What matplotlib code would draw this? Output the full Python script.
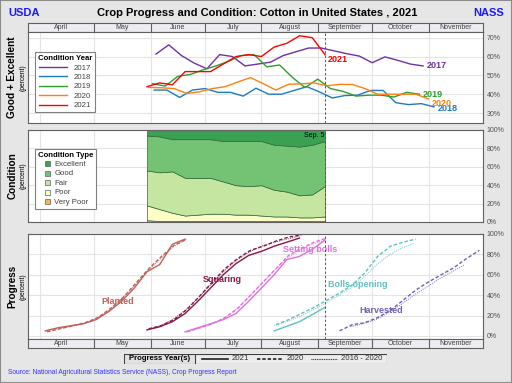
import matplotlib
matplotlib.use('Agg')
import matplotlib.pyplot as plt
import pandas as pd
from matplotlib.lines import Line2D
from matplotlib.patches import Rectangle

plt.rcParams['font.family'] = ['Liberation Sans', 'DejaVu Sans']

months = ['April', 'May', 'June', 'July', 'August', 'September', 'October', 'November']
month_starts = ['2021-04-01', '2021-05-01', '2021-06-01', '2021-07-01', '2021-08-01',
                '2021-09-01', '2021-10-01', '2021-11-01', '2021-12-01']
latest_week = '2021-09-05'

# good + excellent condition by year (%)
ge_years = ['2017', '2018', '2019', '2020', '2021']
ge_start = ['2017-06-04', '2018-06-03', '2019-06-02', '2020-05-31', '2021-05-30']
ge_2017 = [61.3, 66.2, 60.5, 56.5, 53.5, 61, 60, 55, 56, 57, 60.5, 62.5, 64.5, 64.5, 63,
           61.5, 60.2, 56.7, 59.8, 58, 56, 55]
ge_2018 = [42.2, 42.2, 38.3, 42.2, 43, 41, 41, 39, 43.2, 40, 40, 42, 44, 41.2, 38, 39.3,
           39.5, 42, 42, 35.5, 34.5, 35, 33.3]
ge_2019 = [45.6, 44.3, 49.5, 50.5, 53, 55, 57.5, 60.5, 61, 54.5, 55.5, 49, 43.5, 48, 43,
           41.5, 39, 39.5, 39.5, 38.5, 41, 40]
ge_2020 = [43.6, 43.4, 43, 40.4, 41.3, 43, 44, 46.5, 48.8, 45.6, 42.2, 45.3, 45.5, 46, 44.5,
           45.2, 45.2, 43, 40, 40, 40, 40, 37.5]
ge_2021 = [44, 46, 45, 52, 52, 52, 56, 60, 61, 60, 65, 67, 71, 70, 61]
ge_colors = ['#7030a8', '#1f7bc0', '#2ca02c', '#ff7f0e', '#ff0000']

# condition type 2021 (%)
cond_start = '2021-05-30'
cond_types = ['Excellent', 'Good', 'Fair', 'Poor', 'Very Poor']
excellent = [6, 7, 10, 10, 10, 10, 12, 12, 12, 12, 16, 17, 18, 16, 12]
good = [38, 39, 35, 42, 42, 42, 44, 48, 49, 48, 49, 50, 53, 54, 49]
fair = [38, 40, 45, 41, 40, 39, 35, 32, 31, 33, 29, 27, 24, 25, 33]
poor = [16, 13, 9, 6, 7, 8, 8, 7, 7, 6, 5, 5, 4, 4, 5]
very_poor = [2, 1, 1, 1, 1, 1, 1, 1, 1, 1, 1, 1, 1, 1, 1]
cond_colors = ['#3aa052', '#74c374', '#c4e6a0', '#fefec8', '#f4b850']

# progress (%): 2021, 2020, 2016-2020 average
stages = ['Planted', 'Squaring', 'Setting bolls', 'Bolls opening', 'Harvested']
stage_colors = ['#c0605a', '#861848', '#e070e0', '#60c0c0', '#7060b8']
start_2021 = ['2021-04-04', '2021-05-30', '2021-06-20', '2021-08-08', None]
start_2020 = ['2020-04-05', '2020-05-31', '2020-06-21', '2020-08-09', '2020-09-13']
start_avg = ['2021-04-04', '2021-05-30', '2021-06-20', '2021-08-08', '2021-09-19']
prog_2021 = [
    [5, 8, 10, 12, 16, 24, 34, 47, 63, 70, 90, 95],
    [6, 9, 14, 22, 34, 47, 60, 71, 79, 83, 88, 92, 96],
    [4, 8, 12, 16, 22, 34, 47, 60, 75, 78, 85, 94],
    [5, 9.5, 14, 21, 28],
    [],
]
prog_2020 = [
    [4, 7, 10, 13, 18, 27, 38, 52, 66, 78, 89, 95],
    [7, 10, 16, 26, 39, 53, 66, 76, 84, 88, 93, 97, 99],
    [4, 8, 12, 18, 27, 40, 53, 66, 79, 86, 92, 96],
    [11, 16, 22, 28, 35, 42, 50, 62, 78, 88, 92, 95],
    [5, 11, 13, 18, 25, 35, 45, 53, 60, 67, 76, 84],
]
prog_avg = [
    [5, 7, 9, 12, 17, 25, 36, 49, 63, 75, 87, 94],
    [6, 10, 16, 25, 37, 50, 63, 74, 82, 88, 92, 95, 98],
    [4, 7, 11, 17, 26, 38, 51, 64, 76, 84, 90, 94],
    [10, 14, 19, 25, 32, 39, 47, 57, 69, 79, 86, 91],
    [9, 12, 16, 23, 31, 40, 48, 56, 63, 70],
]
stage_label_pos = [(134, 34), (191.5, 55), (239.7, 85), (266, 50), (279, 24.5)]


def doy(date):
    t = pd.Timestamp(date)
    return pd.Timestamp(2021, t.month, t.day).dayofyear


def weeks(start, n):
    return [doy(t) for t in pd.date_range(start, periods=n, freq='7D')]


W, H = 512, 383
fig = plt.figure(figsize=(W / 100, H / 100), dpi=100)
fig.patch.set_facecolor('#e6e6e6')
fig.patches.append(Rectangle((0, 0), 1, 1, transform=fig.transFigure, fill=False,
                             edgecolor='#8c8c8c', lw=1.5))

x0, x1 = 84.5, 335
ms = [doy(m) for m in month_starts]
frame = '#606060'
grid = '#e4e4e4'


def pix_axes(top, bottom):
    return fig.add_axes([28 / W, 1 - bottom / H, 455 / W, (bottom - top) / H])


def style(ax, ylim, ticks):
    ax.set_xlim(x0, x1)
    ax.set_ylim(*ylim)
    ax.set_facecolor('white')
    for t in ticks:
        ax.axhline(t, color=grid, lw=0.8, zorder=0)
    for m in ms[:-1]:
        ax.axvline(m, color=grid, lw=0.8, zorder=0)
    ax.set_xticks([])
    ax.yaxis.tick_right()
    ax.set_yticks(ticks)
    ax.set_yticklabels([f'{t}%' for t in ticks])
    ax.tick_params(axis='y', length=0, labelsize=5, labelcolor='#505050', pad=2.5)
    for s in ax.spines.values():
        s.set_color(frame)
        s.set_linewidth(0.8)
    ax.axvline(doy(latest_week), color='#555555', lw=0.7, ls=(0, (2.5, 2)), zorder=5)


def month_strip(top, bottom):
    ax = pix_axes(top, bottom)
    ax.set_xlim(x0, x1)
    ax.set_ylim(0, 1)
    ax.set_facecolor('#ededf1')
    ax.set_xticks([])
    ax.set_yticks([])
    for s in ax.spines.values():
        s.set_color(frame)
        s.set_linewidth(0.8)
    edges = [x0] + ms[1:]
    for m in ms[1:-1]:
        ax.axvline(m, color=frame, lw=0.8)
    for i, name in enumerate(months):
        ax.text((edges[i] + edges[i + 1]) / 2, 0.45, name, ha='center', va='center',
                fontsize=5, color='#404040')


# title
fig.text(8 / W, 1 - 13 / H, 'USDA', color='#1a1aff', fontsize=8, fontweight='bold',
         ha='left', va='center')
fig.text(504 / W, 1 - 13 / H, 'NASS', color='#1a1aff', fontsize=8, fontweight='bold',
         ha='right', va='center')
fig.text(257 / W, 1 - 13 / H, 'Crop Progress and Condition: Cotton in United States , 2021',
         fontsize=8, fontweight='bold', ha='center', va='center')

month_strip(23, 32)

# top panel: good + excellent
ax1 = pix_axes(32, 122.5)
style(ax1, (25, 73), [30, 40, 50, 60, 70])
series = [ge_2017, ge_2018, ge_2019, ge_2020, ge_2021]
offsets = [(3, 0), (2.5, -1.2), (2.5, 0), (2.5, -3.6), (2.2, -3.2)]
for yr, st, vals, c, off in zip(ge_years, ge_start, series, ge_colors, offsets):
    xs = weeks(st, len(vals))
    ax1.plot(xs, vals, color=c, lw=1, label=yr, zorder=3)
    ax1.annotate(yr, (xs[-1], vals[-1]), xytext=off, textcoords='offset points',
                 color=c, fontsize=6.5, fontweight='bold', ha='left', va='center')
leg1 = ax1.legend(title='Condition Year', loc='upper left', bbox_to_anchor=(0.006, 0.82),
                  fontsize=5.6, title_fontproperties={'size': 5.6, 'weight': 'bold'},
                  handlelength=3.6, labelspacing=0.25, borderpad=0.4, fancybox=False,
                  framealpha=1, edgecolor='#808080', handletextpad=0.8)
leg1.get_frame().set_linewidth(0.8)
for t in leg1.get_texts():
    t.set_color('#404040')

# middle panel: condition type
ax2 = pix_axes(130, 222)
style(ax2, (0, 100), [0, 20, 40, 60, 80, 100])
xc = weeks(cond_start, len(excellent))
ax2.stackplot(xc, very_poor, poor, fair, good, excellent, colors=cond_colors[::-1],
              edgecolor='#2f6a35', linewidth=0.5, zorder=2)
ax2.text(doy(latest_week) - 0.3, 98, 'Sep. 5', ha='right', va='top', fontsize=5, zorder=6)
handles = [Line2D([], [], ls='', marker='s', markersize=3.6, markerfacecolor=c,
                  markeredgecolor='#606060', markeredgewidth=0.5) for c in cond_colors]
leg2 = ax2.legend(handles, cond_types, title='Condition Type', loc='upper left',
                  bbox_to_anchor=(0.006, 0.84), fontsize=5.6,
                  title_fontproperties={'size': 5.6, 'weight': 'bold'},
                  labelspacing=0.25, borderpad=0.4, fancybox=False, framealpha=1,
                  edgecolor='#808080', handletextpad=0.3, handlelength=1.2)
leg2.get_frame().set_linewidth(0.8)
for t in leg2.get_texts():
    t.set_color('#404040')

# bottom panel: progress
ax3 = pix_axes(234, 339)
style(ax3, (-3, 100), [0, 20, 40, 60, 80, 100])
for i, name in enumerate(stages):
    c = stage_colors[i]
    if prog_2021[i]:
        ax3.plot(weeks(start_2021[i], len(prog_2021[i])), prog_2021[i], color=c, lw=1, zorder=3)
    ax3.plot(weeks(start_2020[i], len(prog_2020[i])), prog_2020[i], color=c, lw=1,
             ls=(0, (2.5, 1.5)), zorder=3)
    ax3.plot(weeks(start_avg[i], len(prog_avg[i])), prog_avg[i], color=c, lw=0.8,
             ls=(0, (1, 1)), alpha=0.75, zorder=3)
    lx, ly = stage_label_pos[i]
    ax3.text(lx, ly, name, color=c, fontsize=6.5, fontweight='bold', ha='center',
             va='center', zorder=4)

month_strip(339, 348)

# left labels
for name, top, bottom in [('Good + Excellent', 32, 122.5), ('Condition', 130, 222),
                          ('Progress', 234, 339)]:
    yc = 1 - (top + bottom) / 2 / H
    fig.text(12.5 / W, yc, name, rotation=90, fontsize=7.2, fontweight='bold',
             ha='center', va='center')
    fig.text(23.5 / W, yc, '(percent)', rotation=90, fontsize=4.8, ha='center', va='center')

# progress legend
axl = fig.add_axes([124 / W, 1 - 364 / H, 263 / W, 10 / H])
axl.set_xlim(0, 263)
axl.set_ylim(0, 10)
axl.axis('off')
axl.add_patch(Rectangle((0, 0), 263, 10, facecolor='#ececec', edgecolor='#404040', lw=0.8))
axl.add_patch(Rectangle((0, 0), 71, 10, facecolor='#e2e2e2', edgecolor='#404040', lw=0.8))
axl.text(35.5, 5, 'Progress Year(s)', fontsize=5.6, fontweight='bold', ha='center', va='center')
for xa, ls, lw, lab in [(78, '-', 1.2, '2021'), (133, (0, (2, 1.2)), 1.2, '2020'),
                        (187, (0, (0.8, 0.8)), 0.8, '2016 - 2020')]:
    axl.plot([xa, xa + 26], [5, 5], color='#202020', lw=lw, ls=ls)
    axl.text(xa + 30, 5, lab, fontsize=5.6, ha='left', va='center', color='#303030')

fig.text(8 / W, 1 - 373 / H,
         'Source: National Agricultural Statistics Service (NASS), Crop Progress Report',
         color='#3030ff', fontsize=4.8, ha='left', va='center')

fig.savefig('out.png', dpi=100, facecolor=fig.get_facecolor())
